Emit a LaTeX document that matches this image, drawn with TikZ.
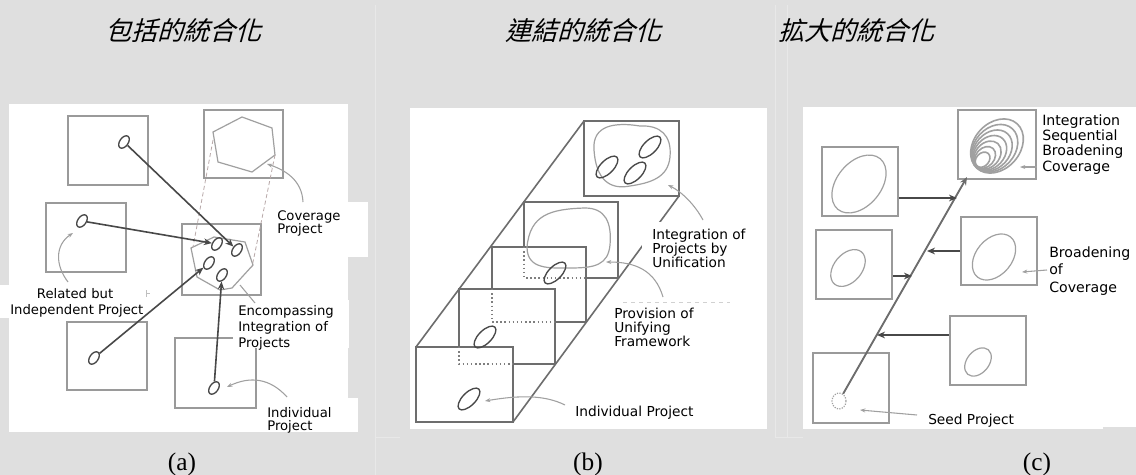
\documentclass[tikz,border=0pt]{standalone}
\usepackage{fontspec}
\setmainfont{DejaVu Sans}
\newfontfamily\titlecjk[FakeSlant=0.28]{Noto Sans CJK TC}
\newfontfamily\capfont{Liberation Serif}
\usetikzlibrary{arrows.meta,shapes.geometric,calc}
\definecolor{pagegray}{HTML}{DFDFDF}
\definecolor{seamgray}{HTML}{E8E8E8}
\definecolor{framegray}{HTML}{9A9A9A}
\definecolor{darkline}{HTML}{484848}
\definecolor{softline}{HTML}{A0A0A0}
\definecolor{pinkline}{HTML}{B8A8A8}
\tikzset{
  patch/.style={fill=white,draw=none},
  sqbox/.style={draw=framegray,line width=1.2pt,inner sep=0pt,minimum size=0pt},
  fr/.style={draw=darkline!80!white,line width=1.2pt},
  hid/.style={draw=darkline!70!white,line width=1.1pt,dotted},
  oval/.style={ellipse,draw=darkline,line width=1pt,inner sep=0pt,rotate=55},
  ovalb/.style={ellipse,draw=darkline,line width=1pt,inner sep=0pt,rotate=45},
  thinoval/.style={ellipse,draw=softline,line width=.9pt,inner sep=0pt,rotate=50},
  conn/.style={draw=darkline,line width=1.2pt,-{Stealth[length=6pt,width=5pt]}},
  lead/.style={draw=softline,line width=.8pt,-{Stealth[length=4pt,width=3pt]}},
  blob/.style={draw=softline,line width=.9pt},
  pinkd/.style={draw=pinkline,line width=.6pt,densely dashed},
  lblA/.style={anchor=north west,inner sep=0pt,align=left,text=black,font=\fontsize{10}{10}\selectfont},
  titletext/.style={anchor=west,inner sep=0pt,font=\fontsize{19.5}{20}\titlecjk},
  captext/.style={anchor=center,inner sep=0pt,font=\fontsize{19}{20}\capfont},
}
\newcommand\pxbox[5]{\node[sqbox,minimum width={(#4-#2)*0.75pt},minimum height={(#5-#3)*0.75pt}] (#1) at ({(#2+#4)/2},{(#3+#5)/2}) {};}
\newcommand\pxoval[5][oval]{\node[#1,minimum width={#4*0.75pt},minimum height={#5*0.75pt}] (#2) at #3 {};}
\begin{document}
\begin{tikzpicture}[x=0.75pt,y=-0.75pt]
\useasboundingbox (0,0) rectangle (1136,475);
\fill[pagegray] (0,0) rectangle (1136,475);
% faint seams
\draw[seamgray,line width=.6pt] (375,5) -- (375,475) (775,5) -- (775,437) (787,5) -- (787,437) (375,437) -- (400,437) (775,437) -- (803,437);
% white panels
\fill[patch] (9,104) rectangle (348,432);
\fill[patch] (410,108) rectangle (767,429);
\fill[patch] (803,107) rectangle (1136,427);
\fill[patch] (803,427) rectangle (1103,429);

% ---------- panel (a)
\pxbox{aa}{68}{116}{148}{185}
\pxbox{ab}{204}{110}{283}{178}
\pxbox{ac}{46}{203}{126}{272}
\pxbox{ad}{182}{224}{261}{295}
\pxbox{ae}{67}{322}{147}{390}
\pxbox{af}{175}{338}{256}{408}
\fill[patch] (276,202) rectangle (368,257);
\fill[patch] (0,285) rectangle (150,318);
\fill[patch] (233,300) rectangle (349,348);
\fill[patch] (264,398) rectangle (358,432);
\draw[blob] (213,132) -- (242,117) -- (272,128) -- (275,155) -- (252,172) -- (218,162) -- cycle;
\draw[blob] (191,248) -- (214,237) -- (245,242) -- (253,265) -- (232,288) -- (220,290) -- (197,277) -- cycle;
\coordinate (hu1) at (213,140); \coordinate (hd1) at (193,247);
\coordinate (hu2) at (275,155); \coordinate (hd2) at (252,267);
\draw[pinkd] (hu1) -- (hd1) (hu2) -- (hd2);
\pxoval{o1}{(124,142)}{14}{8.5}
\pxoval{o2}{(82,221)}{14}{8.5}
\pxoval{o3}{(217,244)}{14}{8.5}
\pxoval{o4}{(237,250)}{14}{8.5}
\pxoval{o5}{(209,263)}{14}{8.5}
\pxoval{o6}{(222,275)}{14}{8.5}
\pxoval{o7}{(94,358)}{14}{8.5}
\pxoval{o8}{(214,388)}{14}{8.5}
\draw[conn] (o1) -- (o4);
\draw[conn] (o2) -- (o3);
\draw[conn] (o7) -- (o5);
\draw[conn] (o8) -- (o6);
\coordinate (la1) at (303,202); \coordinate (la2) at (68,282); \coordinate (la3) at (255,303); \coordinate (la4) at (287,397);
\draw[lead] (la1) .. controls (302,180) and (285,170) .. (267,164);
\draw[lead] (la2) .. controls (55,265) and (55,245) .. (73,233);
\draw[softline,line width=.8pt] (la3) -- (240,285);
\draw[lead] (la4) .. controls (270,378) and (250,376) .. (227,387);
\draw[black!25,line width=.5pt] (146,290) -- (146,297) (146,293.5) -- (150,293.5);
\node[lblA,font=\fontsize{9.9}{10}\selectfont] (ta1) at (277,210) {Coverage\\Project};
\node[lblA,font=\fontsize{9.9}{12}\selectfont] (ta2) at (10,288) {\hspace*{20pt}Related but\\Independent Project};
\node[lblA,font=\fontsize{9.9}{12}\selectfont] (ta3) at (238,305) {Encompassing\\Integration of\\Projects};
\node[lblA,font=\fontsize{9.9}{10}\selectfont] (ta4) at (267,407) {Individual\\Project};

% ---------- panel (b)
\coordinate (f1nw) at (416,347); \coordinate (f1se) at (513,422);
\coordinate (f5nw) at (584,121); \coordinate (f5se) at (679,196);
\draw[fr] (f1nw) -- (f5nw) (f1se) -- (f5se);
\node[sqbox,draw=darkline!80!white,minimum width={97*0.75pt},minimum height={75*0.75pt}] (fa) at (464.5,384.5) {};
\node[sqbox,draw=darkline!80!white,minimum width={95*0.75pt},minimum height={75*0.75pt}] (fe) at (631.5,158.5) {};
% frame 2
\draw[fr] (459,347) -- (459,289) -- (555,289) -- (555,364) -- (513,364);
\draw[hid] (459,347) -- (459,364) -- (513,364);
% frame 3
\draw[fr] (492,289) -- (492,247) -- (586,247) -- (586,322) -- (555,322);
\draw[hid] (492,289) -- (492,322) -- (555,322);
% frame 4
\draw[fr] (524,247) -- (524,202) -- (618,202) -- (618,278) -- (586,278);
\draw[hid] (524,247) -- (524,278) -- (586,278);
\fill[patch] (642,222) rectangle (760,268);
\draw[black!18,line width=.6pt,dashed] (623,302) -- (730,302);
\draw[blob] (594,150) .. controls (592,125) and (615,122) .. (640,126) .. controls (660,125) and (672,135) .. (670,157) .. controls (668,178) and (650,183) .. (630,186) .. controls (610,190) and (596,180) .. (594,150) -- cycle;
\draw[blob] (527,247) .. controls (530,215) and (550,209) .. (585,208) .. controls (605,208) and (612,222) .. (610,245) .. controls (608,265) and (595,268) .. (570,268) .. controls (550,268) and (527,270) .. (527,247) -- cycle;
\pxoval[ovalb]{p1}{(650,147)}{28}{13}
\pxoval[ovalb]{p2}{(607,167)}{28}{13}
\pxoval[ovalb]{p3}{(635,173)}{28}{13}
\pxoval[ovalb]{p4}{(555,273)}{28}{13}
\pxoval[ovalb]{p5}{(485,337)}{28}{13}
\pxoval[ovalb]{p6}{(469,399)}{28}{13}
\coordinate (lb1) at (703,220); \coordinate (lb2) at (663,297); \coordinate (lb3) at (565,405);
\draw[lead] (lb1) .. controls (695,205) and (682,192) .. (668,185);
\draw[lead] (lb2) .. controls (655,270) and (635,262) .. (606,262);
\draw[lead] (lb3) .. controls (545,395) and (520,395) .. (485,401);
\node[lblA,font=\fontsize{10.3}{10.5}\selectfont] (tb1) at (652,229) {Integration of\\Projects by\\Unification};
\node[lblA,font=\fontsize{10.3}{10.5}\selectfont] (tb2) at (614,308) {Provision of\\Unifying\\Framework};
\node[lblA,font=\fontsize{10.3}{10.5}\selectfont] (tb3) at (575,406) {Individual Project};

% ---------- panel (c)
\pxbox{ca}{958}{110}{1036}{179}
\pxbox{cb}{822}{147}{898}{216}
\pxbox{cc}{816}{230}{892}{299}
\pxbox{cd}{961}{217}{1037}{285}
\pxbox{ce}{950}{316}{1026}{385}
\pxbox{cf}{813}{353}{889}{423}
\foreach \s in {1,.88,.76,.64,.52,.40,.28}{
  \pgfmathsetmacro\cxx{977+20*\s}
  \pgfmathsetmacro\cyy{165-19*\s}
  \pgfmathsetmacro\wdd{60*\s*0.75}
  \pgfmathsetmacro\htt{46*\s*0.75}
  \node[ellipse,draw=softline,line width=1.2pt,inner sep=0pt,rotate=48,minimum width=\wdd pt,minimum height=\htt pt] at (\cxx,\cyy) {};
}
\pxoval[thinoval]{q1}{(859,184)}{66}{44}
\pxoval[thinoval]{q2}{(848,268)}{42}{28}
\pxoval[thinoval]{q3}{(994,257)}{52}{36}
\pxoval[thinoval]{q4}{(978,362)}{32}{22}
\node[ellipse,draw=softline,line width=.9pt,densely dotted,inner sep=0pt,minimum width=10.5pt,minimum height=12pt] (seed) at (839,401) {};
\coordinate (tip) at (967,177);
\draw[draw=darkline!80!white,line width=1.4pt,-{Stealth[length=6pt,width=5pt]}] (seed) -- (tip);
\coordinate (j1) at (957,198); \coordinate (j2) at (912,276); \coordinate (j3) at (927,251); \coordinate (j4) at (877,335);
\draw[conn] (cb.east |- j1) -- (j1);
\draw[conn] (cc.east |- j2) -- (j2);
\draw[conn] (cd.west |- j3) -- (j3);
\draw[conn] (ce.west |- j4) -- (j4);
\coordinate (lc1) at (1037,167); \coordinate (lc2) at (1047,270); \coordinate (lc3) at (917,415);
\draw[lead] (lc1) -- (1020,167);
\draw[lead] (lc2) -- (1022,272);
\draw[lead] (lc3) -- (860,410);
\node[lblA,font=\fontsize{10.6}{11.6}\selectfont] (tc1) at (1042,114) {Integration\\Sequential\\Broadening\\Coverage};
\node[lblA,font=\fontsize{10.6}{13.4}\selectfont] (tc2) at (1049,246) {Broadening\\of\\Coverage};
\node[lblA,font=\fontsize{10.3}{11}\selectfont] (tc3) at (928,414) {Seed Project};

% ---------- titles and captions
\node[titletext] (t1) at (105,31) {包括的統合化};
\node[titletext] (t2) at (505,31) {連結的統合化};
\node[titletext] (t3) at (778,31) {拡大的統合化};
\node[captext] (c1) at (182,464) {(a)};
\node[captext] (c2) at (588,464) {(b)};
\node[captext] (c3) at (1037,464) {(c)};
\end{tikzpicture}
\end{document}
